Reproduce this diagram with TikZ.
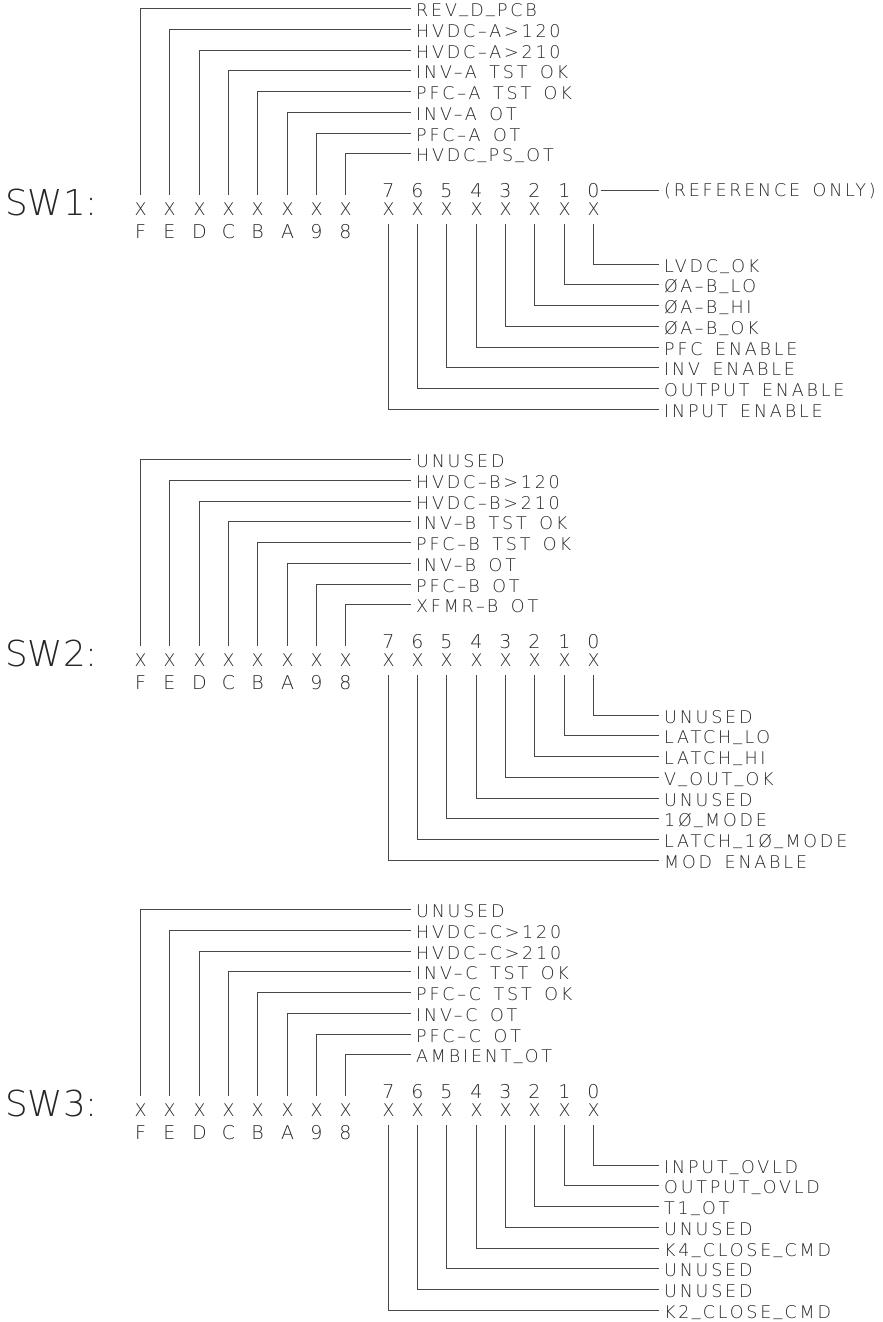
\documentclass[tikz,border=0pt]{standalone}
\usepackage{fontspec}
\newfontfamily\cadlbl[LetterSpace=16, WordSpace=1.5]{DejaVu Sans ExtraLight}
\newfontfamily\cadplain{DejaVu Sans ExtraLight}
\newcommand\lblfont{\cadlbl\fontsize{17.5}{19}\selectfont}
\newcommand\bitfont{\cadplain\fontsize{17.5}{19}\selectfont}
\newcommand\numfont{\cadplain\fontsize{19}{21}\selectfont}
\newcommand\bigfont{\cadplain\fontsize{35.7}{40}\selectfont}
\newcommand\us{\kern0.13em\raisebox{0.2em}{\_}\kern0.13em}
\tikzset{
  x=1pt, y=-1pt,
  wire/.style={draw=black!72, line width=1.3pt},
  bitx/.style={font=\bitfont, text=black!85, inner sep=0pt, minimum height=29pt},
  bitnum/.style={font=\numfont, text=black!85, inner xsep=1.5pt, inner ysep=0pt},
  lbl/.style={font=\lblfont, text=black!85, anchor=west, inner xsep=5pt, inner ysep=0pt, text height=16pt, text depth=0pt},
  swlbl/.style={font=\bigfont, text=black!85, anchor=west, inner sep=0pt}
}
% #1 block number, #2 top y, #3 upper labels (F..8), #4 lower labels (0..7)
\newcommand\drawblock[4]{%
  \node[swlbl] (sw#1) at (5, #2+194.5) {SW#1:};
  \foreach \t [count=\k from 0] in {#3} {
    \pgfmathsetmacro\xx{round(140+29.3*\k)+0.5}
    \pgfmathsetmacro\yy{round(#2+20.75*\k)+0.5}
    \node[bitx] (b#1u\k) at (\xx, #2+201.5) {X};
    \node[bitnum] (n#1u\k) at (\xx, #2+223.5) {\ifcase\k F\or E\or D\or C\or B\or A\or 9\or 8\fi};
    \node[lbl] (l#1u\k) at (411, \yy) {\t};
    \draw[wire] (b#1u\k.north) |- (l#1u\k.west);
  }
  \foreach \t [count=\k from 0] in {#4} {
    \pgfmathsetmacro\xx{round(593-29.3*\k)+0.5}
    \pgfmathsetmacro\yy{round(#2+255.5+20.75*\k)+0.5}
    \node[bitx] (b#1d\k) at (\xx, #2+201.5) {X};
    \node[bitnum] (n#1d\k) at (\xx, #2+182.5) {\k};
    \node[lbl] (l#1d\k) at (659, \yy) {\t};
    \draw[wire] (b#1d\k.south) |- (l#1d\k.west);
  }
}
\begin{document}
\begin{tikzpicture}
\fill[white] (0,0) rectangle (883,1322);
\useasboundingbox (0,0) rectangle (883,1322);

\drawblock{1}{8}
  {REV\us D\us PCB, HVDC–A>120, HVDC–A>210, INV–A TST OK, PFC–A TST OK, INV–A OT, PFC–A OT, HVDC\us PS\us OT}
  {LVDC\us OK, ØA–B\us LO, ØA–B\us HI, ØA–B\us OK, PFC ENABLE, INV ENABLE, OUTPUT ENABLE, INPUT ENABLE}

\node[lbl] (refonly) at (659, 188.5) {(REFERENCE ONLY)};
\draw[wire] (n1d0.east) -- (n1d0.east -| refonly.west);

\drawblock{2}{459}
  {UNUSED, HVDC–B>120, HVDC–B>210, INV–B TST OK, PFC–B TST OK, INV–B OT, PFC–B OT, XFMR–B OT}
  {UNUSED, LATCH\us LO, LATCH\us HI, V\us OUT\us OK, UNUSED, 1Ø\us MODE, LATCH\us 1Ø\us MODE, MOD ENABLE}

\drawblock{3}{909}
  {UNUSED, HVDC–C>120, HVDC–C>210, INV–C TST OK, PFC–C TST OK, INV–C OT, PFC–C OT, AMBIENT\us OT}
  {INPUT\us OVLD, OUTPUT\us OVLD, T1\us OT, UNUSED, K4\us CLOSE\us CMD, UNUSED, UNUSED, K2\us CLOSE\us CMD}
\end{tikzpicture}
\end{document}
